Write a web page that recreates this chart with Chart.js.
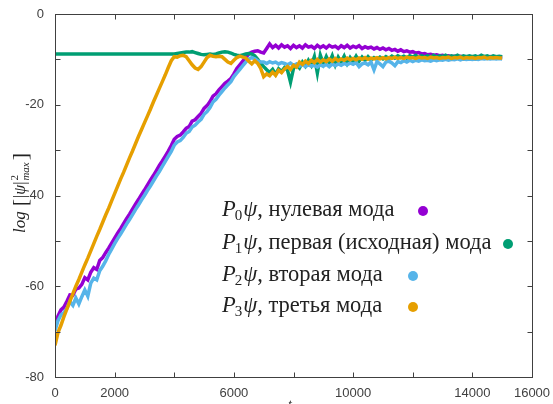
<!DOCTYPE html>
<html>
<head>
<meta charset="utf-8">
<script src="https://cdn.jsdelivr.net/npm/chart.js@4"></script>
<style>
  body { margin: 0; background: #fff; }
  canvas { display: block; }
</style>
</head>
<body>
<canvas id="chart" width="553" height="404"></canvas>
<script>
// time samples (t)
const times = [
  0, 100, 200, 300, 400, 500, 600, 700, 800, 900,
  1000, 1100, 1200, 1300, 1400, 1500, 1600, 1700, 1800, 1900,
  2000, 2100, 2200, 2300, 2400, 2500, 2600, 2700, 2800, 2900,
  3000, 3100, 3200, 3300, 3400, 3500, 3600, 3700, 3800, 3900,
  4000, 4100, 4200, 4300, 4400, 4500, 4600, 4700, 4800, 4900,
  5000, 5100, 5200, 5300, 5400, 5500, 5600, 5700, 5800, 5900,
  6000, 6100, 6200, 6300, 6400, 6500, 6600, 6700, 6800, 6900,
  7000, 7100, 7200, 7300, 7400, 7500, 7600, 7700, 7800, 7900,
  8000, 8100, 8200, 8300, 8400, 8500, 8600, 8700, 8800, 8900,
  9000, 9100, 9200, 9300, 9400, 9500, 9600, 9700, 9800, 9900,
  10000, 10100, 10200, 10300, 10400, 10500, 10600, 10700, 10800, 10900,
  11000, 11100, 11200, 11300, 11400, 11500, 11600, 11700, 11800, 11900,
  12000, 12100, 12200, 12300, 12400, 12500, 12600, 12700, 12800, 12900,
  13000, 13100, 13200, 13300, 13400, 13500, 13600, 13700, 13800, 13900,
  14000, 14100, 14200, 14300, 14400, 14500, 14600, 14700, 14800, 14900,
  15000
];

// P0 psi, zero mode
const mode0 = [
  -69.0, -66.6, -65.2, -64.6, -63.3, -61.9, -62.0, -60.6, -60.4, -59.6,
  -58.1, -58.6, -56.9, -55.9, -56.3, -54.3, -53.7, -52.6, -51.6, -50.5,
  -49.4, -48.3, -47.3, -46.2, -45.1, -44.1, -43.0, -41.9, -40.9, -39.8,
  -38.8, -37.7, -36.6, -35.6, -34.5, -33.4, -32.4, -31.3, -30.2, -29.0,
  -27.6, -27.0, -26.7, -26.0, -25.2, -24.8, -23.6, -23.3, -22.6, -21.9,
  -20.8, -20.2, -19.3, -18.1, -17.6, -16.7, -16.0, -15.3, -14.8, -14.2,
  -13.2, -12.0, -11.2, -10.4, -9.6, -8.8, -8.4, -8.2, -8.1, -8.4,
  -8.6, -7.6, -6.6, -7.4, -6.9, -7.5, -6.8, -7.3, -7.0, -7.6,
  -6.9, -7.4, -7.0, -7.5, -6.8, -7.3, -7.1, -7.6, -6.9, -7.4,
  -7.0, -7.5, -6.9, -7.3, -7.1, -7.6, -7.0, -7.4, -6.9, -7.5,
  -7.1, -7.4, -7.0, -7.6, -7.2, -7.5, -7.3, -7.7, -7.4, -7.8,
  -7.5, -7.9, -7.6, -8.0, -7.8, -8.2, -7.9, -8.3, -8.1, -8.4,
  -8.3, -8.6, -8.5, -8.8, -8.7, -9.0, -8.9, -9.1, -9.0, -9.2,
  -9.1, -9.3, -9.2, -9.4, -9.3, -9.4, -9.3, -9.5, -9.4, -9.5,
  -9.4, -9.5, -9.4, -9.6, -9.5, -9.5, -9.4, -9.6, -9.5, -9.5,
  -9.5
];

// P1 psi, first (initial) mode
const mode1 = [
  -8.8, -8.8, -8.8, -8.8, -8.8, -8.8, -8.8, -8.8, -8.8, -8.8,
  -8.8, -8.8, -8.8, -8.8, -8.8, -8.8, -8.8, -8.8, -8.8, -8.8,
  -8.8, -8.8, -8.8, -8.8, -8.8, -8.8, -8.8, -8.8, -8.8, -8.8,
  -8.8, -8.8, -8.8, -8.8, -8.8, -8.8, -8.8, -8.8, -8.8, -8.8,
  -8.8, -8.7, -8.6, -8.5, -8.4, -8.4, -8.3, -8.5, -8.7, -8.9,
  -9.0, -8.9, -8.8, -8.9, -8.8, -8.6, -8.4, -8.3, -8.4, -8.6,
  -8.9, -9.1, -9.2, -9.0, -8.8, -8.7, -8.8, -9.2, -10.0, -10.9,
  -11.6, -12.3, -12.9, -12.2, -13.3, -12.1, -12.7, -11.8, -12.4, -15.0,
  -12.0, -11.2, -11.9, -10.6, -11.5, -10.2, -11.3, -9.4, -13.0, -9.1,
  -11.0, -9.4, -10.8, -9.2, -11.2, -9.5, -10.6, -9.3, -10.9, -9.6,
  -10.5, -9.3, -10.4, -9.5, -10.2, -9.4, -10.1, -9.6, -10.0, -9.5,
  -9.9, -9.4, -9.8, -9.3, -9.7, -9.2, -9.6, -9.3, -9.7, -9.2,
  -9.5, -9.1, -9.6, -9.2, -9.5, -9.2, -9.6, -9.1, -9.5, -9.2,
  -9.4, -9.1, -9.5, -9.2, -9.4, -9.1, -9.5, -9.2, -9.4, -9.2,
  -9.4, -9.2, -9.5, -9.1, -9.4, -9.2, -9.5, -9.2, -9.4, -9.3,
  -9.4
];

// P2 psi, second mode
const mode2 = [
  -69.8, -67.6, -66.3, -65.8, -64.9, -63.4, -64.2, -62.6, -63.9, -62.3,
  -60.8, -62.2, -59.3, -58.2, -58.6, -56.6, -55.6, -54.4, -53.0, -51.8,
  -50.6, -49.5, -48.5, -47.4, -46.3, -45.3, -44.2, -43.1, -42.1, -41.0,
  -40.0, -38.9, -37.9, -36.8, -35.7, -34.7, -33.6, -32.5, -31.4, -30.3,
  -28.9, -28.2, -27.9, -27.2, -26.3, -25.9, -24.9, -24.5, -23.8, -23.2,
  -22.1, -21.5, -20.6, -19.4, -18.8, -17.9, -17.1, -16.3, -15.6, -14.9,
  -13.8, -13.0, -12.2, -11.4, -10.6, -9.9, -9.6, -9.9, -10.3, -10.6,
  -10.6, -10.9, -10.5, -10.8, -10.6, -11.0, -10.7, -10.9, -11.2, -10.8,
  -11.3, -11.0, -11.5, -11.1, -11.6, -11.2, -11.5, -11.3, -11.7, -11.2,
  -11.5, -11.1, -11.6, -11.0, -11.4, -11.0, -11.3, -10.9, -11.2, -10.8,
  -11.1, -10.7, -11.6, -11.0, -10.8, -11.2, -10.6, -12.3, -10.5, -11.0,
  -11.6, -10.6, -10.4, -10.8, -11.4, -10.5, -10.7, -10.3, -10.6, -10.2,
  -10.5, -10.2, -10.4, -10.1, -10.3, -10.2, -10.4, -10.1, -10.3, -10.1,
  -10.2, -10.0, -10.2, -10.0, -10.1, -9.9, -10.1, -9.9, -10.0, -9.9,
  -10.0, -9.9, -10.0, -9.8, -9.9, -9.8, -9.9, -9.8, -9.9, -9.8,
  -9.9
];

// P3 psi, third mode
const mode3 = [
  -73.0, -70.2, -68.6, -66.7, -65.0, -63.3, -61.6, -60.0, -58.5, -56.9,
  -55.3, -53.8, -52.2, -50.6, -49.0, -47.5, -45.9, -44.3, -42.8, -41.2,
  -39.6, -38.0, -36.4, -34.9, -33.3, -31.7, -30.2, -28.6, -27.0, -25.5,
  -24.0, -22.5, -21.0, -19.4, -17.9, -16.4, -14.9, -13.4, -11.8, -10.3,
  -9.4, -9.5, -9.2, -9.1, -9.4, -10.3, -11.2, -11.9, -12.2, -11.6,
  -10.6, -9.6, -9.1, -9.3, -9.4, -9.3, -9.4, -10.0, -10.6, -10.9,
  -10.2, -9.6, -9.3, -9.5, -9.7, -10.4, -11.0, -10.3, -10.9, -12.0,
  -13.8, -13.2, -13.6, -12.8, -13.5, -12.4, -12.9, -12.1, -11.6, -12.2,
  -11.3, -11.7, -10.6, -11.1, -10.4, -10.9, -10.2, -10.7, -10.0, -10.6,
  -10.1, -10.5, -9.9, -10.4, -9.8, -10.3, -9.9, -10.2, -9.7, -10.1,
  -9.8, -10.1, -9.7, -10.0, -9.6, -10.0, -9.7, -9.9, -9.6, -9.9,
  -9.6, -9.9, -9.6, -9.8, -9.5, -9.8, -9.6, -9.8, -9.5, -9.7,
  -9.6, -9.8, -9.5, -9.7, -9.6, -9.8, -9.5, -9.7, -9.6, -9.8,
  -9.6, -9.7, -9.5, -9.8, -9.6, -9.7, -9.5, -9.8, -9.6, -9.7,
  -9.6, -9.8, -9.6, -9.7, -9.5, -9.8, -9.6, -9.7, -9.6, -9.7,
  -9.7
];

const modeSubs = ['0', '1', '2', '3'];
const modeNames = [', нулевая мода', ', первая (исходная) мода', ', вторая мода', ', третья мода'];
const modeColors = ['#9400d3', '#009e73', '#56b4e9', '#e69f00'];

const xLabels = [0, 2000, 6000, 10000, 14000, 16000];
const yLabels = { '0': '0', '-20': '-20', '-40': '40', '-60': '-60', '-80': '-80' };

const axisColor = '#404040';
const serif = '"Liberation Serif", "DejaVu Serif", serif';

function toPoints(values) {
    return values.map((v, i) => ({ x: times[i], y: v }));
}

// drop the automatic label padding so layout.padding sets the plot box
function noPad(s) {
    s.paddingTop = 0;
    s.paddingBottom = 0;
    s.paddingLeft = 0;
    s.paddingRight = 0;
}

// frame with inward tick marks on all four sides
const framePlugin = {
    id: 'frame',
    afterDraw(chart) {
        const ctx = chart.ctx;
        const a = chart.chartArea;
        const L = Math.round(a.left) + 0.5, R = Math.round(a.right) + 0.5;
        const T = Math.round(a.top) + 0.5, B = Math.round(a.bottom) + 0.5;
        ctx.save();
        ctx.strokeStyle = axisColor;
        ctx.lineWidth = 1;
        ctx.strokeRect(L, T, R - L, B - T);
        ctx.beginPath();
        chart.scales.x.ticks.forEach(tk => {
            const px = Math.round(chart.scales.x.getPixelForValue(tk.value)) + 0.5;
            ctx.moveTo(px, B); ctx.lineTo(px, B - 5);
            ctx.moveTo(px, T); ctx.lineTo(px, T + 5);
        });
        chart.scales.y.ticks.forEach(tk => {
            const py = Math.round(chart.scales.y.getPixelForValue(tk.value)) + 0.5;
            ctx.moveTo(L, py); ctx.lineTo(L + 5, py);
            ctx.moveTo(R, py); ctx.lineTo(R - 5, py);
        });
        ctx.stroke();
        ctx.restore();
    }
};

// axis titles and the legend (text with the dot on the right)
const textPlugin = {
    id: 'texts',
    afterDraw(chart) {
        const ctx = chart.ctx;
        ctx.save();
        ctx.fillStyle = '#222';
        ctx.textBaseline = 'alphabetic';
        ctx.textAlign = 'left';

        // y title
        ctx.save();
        ctx.translate(25, 233);
        ctx.rotate(-Math.PI / 2);
        let x = 0;
        ctx.font = 'italic 17px ' + serif;
        ctx.fillText('log', x, 0); x += ctx.measureText('log').width + 5;
        ctx.font = '22px ' + serif;
        ctx.fillText('[', x, 2); x += ctx.measureText('[').width + 1;
        ctx.font = '16px ' + serif;
        ctx.fillText('|', x, 0); x += ctx.measureText('|').width;
        ctx.font = 'italic 16px ' + serif;
        ctx.fillText('ψ', x, 0); x += ctx.measureText('ψ').width;
        ctx.font = '16px ' + serif;
        ctx.fillText('|', x, 0); x += ctx.measureText('|').width + 1;
        ctx.font = '11px ' + serif;
        ctx.fillText('2', x, -7);
        ctx.font = 'italic 11px ' + serif;
        ctx.fillText('max', x, 4); x += ctx.measureText('max').width + 2;
        ctx.font = '22px ' + serif;
        ctx.fillText(']', x, 2);
        ctx.restore();

        // x title (mostly below the canvas edge)
        ctx.font = 'italic 14px ' + serif;
        ctx.textAlign = 'center';
        ctx.fillText('t', 290, 409);
        ctx.textAlign = 'left';

        // legend
        const rowY = [216, 249, 281, 312];
        const dotX = [423, 508, 413, 413];
        modeNames.forEach((name, i) => {
            let lx = 222;
            const by = rowY[i];
            ctx.fillStyle = '#222';
            ctx.font = 'italic 22.5px ' + serif;
            ctx.fillText('P', lx, by); lx += ctx.measureText('P').width - 1;
            ctx.font = '15px ' + serif;
            ctx.fillText(modeSubs[i], lx, by + 4); lx += ctx.measureText(modeSubs[i]).width + 1;
            ctx.font = 'italic 22.5px ' + serif;
            ctx.fillText('ψ', lx, by); lx += ctx.measureText('ψ').width;
            ctx.font = '22.5px ' + serif;
            ctx.fillText(name, lx, by);
            ctx.beginPath();
            ctx.fillStyle = modeColors[i];
            ctx.arc(dotX[i], by - 5, 5, 0, Math.PI * 2);
            ctx.fill();
        });
        ctx.restore();
    }
};

const ctx = document.getElementById('chart').getContext('2d');
new Chart(ctx, {
    type: 'line',
    data: {
        datasets: [mode0, mode1, mode2, mode3].map((vals, i) => ({
            label: 'P' + modeSubs[i] + 'ψ' + modeNames[i],
            data: toPoints(vals),
            borderColor: modeColors[i],
            backgroundColor: modeColors[i],
            borderWidth: 3.5,
            pointRadius: 0,
            tension: 0,
            order: 4 - i
        }))
    },
    options: {
        responsive: false,
        animation: false,
        layout: { padding: { top: 14, right: 21, left: 0, bottom: 0 } },
        plugins: {
            legend: { display: false },
            tooltip: { enabled: false }
        },
        scales: {
            x: {
                type: 'linear',
                min: 0,
                max: 16000,
                grid: { display: false, drawTicks: false },
                border: { display: false },
                afterFit: s => { s.height = 27; noPad(s); },
                ticks: {
                    stepSize: 2000,
                    autoSkip: false,
                    maxRotation: 0,
                    padding: 9,
                    color: axisColor,
                    font: { family: '"Liberation Sans", Arial, sans-serif', size: 13 },
                    callback: v => xLabels.includes(v) ? String(v) : ''
                }
            },
            y: {
                min: -80,
                max: 0,
                grid: { display: false, drawTicks: false },
                border: { display: false },
                afterFit: s => { s.width = 55; noPad(s); },
                ticks: {
                    stepSize: 10,
                    autoSkip: false,
                    padding: 11,
                    color: axisColor,
                    font: { family: '"Liberation Sans", Arial, sans-serif', size: 13 },
                    callback: v => (String(v) in yLabels) ? yLabels[String(v)] : ''
                }
            }
        }
    },
    plugins: [framePlugin, textPlugin]
});
</script>
</body>
</html>
